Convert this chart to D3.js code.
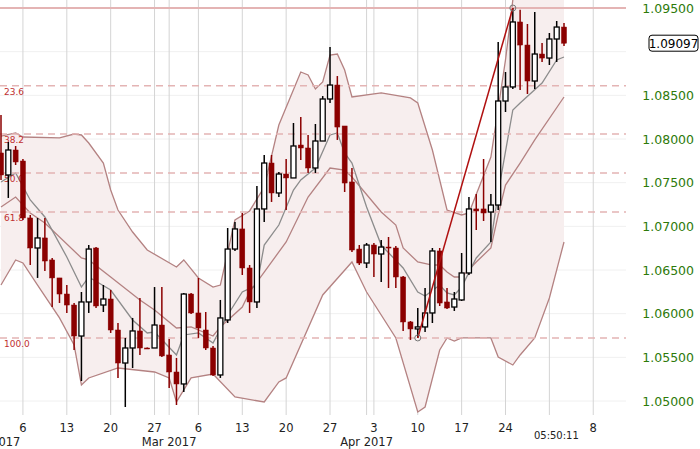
<!DOCTYPE html>
<meta charset="utf-8">
<html>
<head>
<style>
  body { margin: 0; background: #fff; }
  svg { font-family: "DejaVu Sans", Verdana, sans-serif; }
</style>
</head>
<body>
<div id="chart"></div>
<script src="https://d3js.org/d3.v7.min.js"></script>
<script>
// daily candles, 6 per week (Sun-Fri), index 0 = Thu 2 Feb 2017
var open  = [1.07840,1.07588,1.07874,1.07748,1.07096,1.06752,1.06867,1.06615,1.06409,1.06225,
             1.06099,1.05744,1.06134,1.06752,1.06099,1.06168,1.05813,1.05435,1.05607,1.05802,
             1.05607,1.05607,1.05870,1.05527,1.05332,1.05195,1.06225,1.06008,1.05813,1.05607,
             1.05298,1.05928,1.06740,1.06970,1.06523,1.06134,1.07199,1.07725,1.07382,1.07599,
             1.07554,1.07931,1.07897,1.07668,1.07977,1.08458,1.08618,1.08149,1.07508,1.06740,
             1.06580,1.06786,1.06683,1.06763,1.06752,1.06420,1.05905,1.05825,1.05848,1.06008,
             1.06718,1.06134,1.06076,1.06157,1.06466,1.07199,1.07199,1.07164,1.07244,1.08435,
             1.08596,1.09340,1.09076,1.08664,1.08973,1.08927,1.09145,1.09282];
var high  = [1.08275,1.07966,1.07920,1.07771,1.07130,1.07096,1.07096,1.06638,1.06409,1.06328,
             1.06122,1.06248,1.06786,1.06763,1.06328,1.06271,1.05893,1.05722,1.05951,1.06180,
             1.05612,1.06305,1.06305,1.05710,1.05493,1.06237,1.06237,1.06409,1.06019,1.05630,
             1.06157,1.06981,1.07050,1.07153,1.06557,1.07462,1.07817,1.07817,1.07622,1.07771,
             1.08183,1.08252,1.08046,1.08172,1.08492,1.09053,1.08721,1.08149,1.07668,1.06786,
             1.06809,1.06809,1.06844,1.06878,1.06775,1.06431,1.05916,1.06065,1.06294,1.06752,
             1.06752,1.06294,1.06248,1.06695,1.07336,1.07370,1.07771,1.07370,1.09111,1.08767,
             1.09500,1.09480,1.09317,1.09454,1.09099,1.09214,1.09351,1.09328];
var low   = [1.07531,1.07325,1.07702,1.07073,1.06557,1.06409,1.06489,1.06076,1.06122,1.06008,
             1.05584,1.05229,1.06008,1.06065,1.06019,1.05779,1.05264,1.04931,1.05378,1.05527,
             1.05602,1.05607,1.05504,1.05149,1.04954,1.05103,1.05996,1.05722,1.05584,1.05286,
             1.05264,1.05893,1.06718,1.06443,1.06008,1.06065,1.07050,1.07279,1.07336,1.07187,
             1.07554,1.07760,1.07611,1.07611,1.07977,1.08412,1.07989,1.07393,1.06706,1.06557,
             1.06523,1.06420,1.06363,1.06294,1.06294,1.05802,1.05699,1.05722,1.05790,1.05893,
             1.06088,1.06054,1.06031,1.06145,1.06443,1.06958,1.07061,1.06821,1.07187,1.08309,
             1.08573,1.08561,1.08515,1.08573,1.08882,1.08847,1.08882,1.09065];
var close = [1.07588,1.07874,1.07737,1.07096,1.06752,1.06867,1.06603,1.06409,1.06225,1.06099,
             1.05744,1.06134,1.06740,1.06088,1.06168,1.05813,1.05435,1.05607,1.05802,1.05607,
             1.05605,1.05870,1.05516,1.05332,1.05195,1.06225,1.06008,1.05836,1.05607,1.05298,
             1.05951,1.06740,1.06970,1.06523,1.06134,1.07199,1.07725,1.07382,1.07599,1.07554,
             1.07920,1.07897,1.07668,1.07977,1.08458,1.08618,1.08137,1.07496,1.06729,1.06580,
             1.06786,1.06683,1.06763,1.06752,1.06420,1.05905,1.05825,1.05848,1.06008,1.06718,
             1.06122,1.06065,1.06168,1.06466,1.07199,1.07176,1.07153,1.07244,1.08435,1.08596,
             1.09340,1.09076,1.08664,1.08973,1.08927,1.09145,1.09282,1.09097];

// indicator lines, [candle index, price]
var upperBand = [[0,1.08034],[2,1.08069],[3,1.08023],[8,1.08012],[10,1.08057],[11,1.08046],[12,1.07954],
  [14,1.07725],[15,1.07416],[16,1.07187],[18,1.06935],[20,1.06729],[24,1.06534],[25,1.06615],[27,1.06409],
  [29,1.06305],[30,1.06328],[32,1.07073],[34,1.07176],[36,1.07450],[38,1.08160],[41,1.08767],[42,1.08733],
  [43,1.08573],[44,1.08653],[45,1.08962],[46,1.08973],[47,1.08790],[48,1.08481],[52,1.08527],[56,1.08470],
  [57,1.08412],[59,1.07874],[61,1.07187],[63,1.07130],[64,1.07153],[67,1.07794],[69,1.08905],[70,1.09592],
  [71,1.0972],[77,1.0985]];
var midBand = [[0,1.07221],[2,1.07336],[4,1.07153],[6,1.07038],[11,1.06638],[12,1.06615],[15,1.06420],
  [19,1.06157],[21,1.06042],[24,1.05836],[26,1.05848],[27,1.05813],[29,1.05744],[30,1.05848],[33,1.06076],
  [34,1.06248],[36,1.06477],[39,1.06821],[42,1.07336],[45,1.07668],[47,1.07645],[48,1.07565],[52,1.07164],
  [54,1.07015],[55,1.06752],[57,1.06592],[59,1.06557],[60,1.06557],[61,1.06477],[62,1.06420],[63,1.06420],
  [65,1.06592],[67,1.06752],[68,1.07130],[69,1.07473],[71,1.07725],[73,1.07989],[77,1.08481]];
var avgLine = [[0,1.07508],[2,1.07611],[4,1.07302],[6,1.07107],[9,1.06649],[11,1.06305],[12,1.06420],
  [15,1.06271],[18,1.05928],[20,1.05779],[21,1.05790],[24,1.05527],[25,1.05756],[27,1.05779],[29,1.05664],
  [31,1.05985],[33,1.06248],[35,1.06328],[36,1.06786],[38,1.07015],[40,1.07416],[41,1.07531],[43,1.07668],
  [45,1.08046],[46,1.08069],[47,1.07840],[48,1.07725],[50,1.07221],[52,1.06786],[55,1.06523],[57,1.06248],
  [58,1.06202],[60,1.06328],[61,1.06237],[62,1.06214],[63,1.06305],[65,1.06638],[67,1.06821],[68,1.07382],
  [70,1.08332],[71,1.08412],[74,1.08641],[76,1.08905],[77,1.08939]];
var lowerBand = [[0,1.06328],[2,1.06615],[3,1.06580],[5,1.06328],[8,1.05951],[10,1.05641],[11,1.05183],
  [12,1.05264],[16,1.05378],[21,1.05332],[23,1.05264],[24,1.04989],[26,1.05264],[29,1.05309],[32,1.05046],
  [36,1.04989],[38,1.05218],[39,1.05264],[44,1.06214],[48,1.06592],[50,1.06248],[54,1.05722],[57,1.04874],
  [58,1.04931],[60,1.05584],[61,1.05722],[62,1.05687],[63,1.05722],[67,1.05722],[68,1.05504],[70,1.05412],
  [71,1.05527],[73,1.05722],[75,1.06180],[77,1.06821]];

var fibLevels = [0, 23.6, 38.2, 50.0, 61.8, 100.0];
var fibHigh = {i: 70, p: 1.09500}, fibLow = {i: 57, p: 1.05722};
var priceTicks = [1.050,1.055,1.060,1.065,1.070,1.075,1.080,1.085,1.090,1.095];
var dayTicks = [{i:3,t:"6"},{i:9,t:"13"},{i:15,t:"20"},{i:21,t:"27"},{i:27,t:"6"},{i:33,t:"13"},
  {i:39,t:"20"},{i:45,t:"27"},{i:51,t:"3"},{i:57,t:"10"},{i:63,t:"17"},{i:69,t:"24"},{i:75,t:""},{i:81,t:"8"}];
var monthTicks = [{i:-1,t:"Feb 2017"},{i:23,t:"Mar 2017"},{i:50,t:"Apr 2017"}];
var lastPrice = 1.09097, countdown = "05:50:11";

var W = 700, H = 449, plotRight = 626, plotBottom = 415;
var svg = d3.select("#chart").append("svg").attr("width", W).attr("height", H);

var x = d3.scaleLinear().domain([0, 77]).range([1, 564]);
var y = d3.scaleLinear().domain([1.050, 1.095]).range([401, 8]);

svg.append("defs").append("clipPath").attr("id", "plot")
  .append("rect").attr("x", 0).attr("y", 0).attr("width", plotRight).attr("height", plotBottom);
var g = svg.append("g").attr("clip-path", "url(#plot)");

// grid
g.selectAll(".hg").data(priceTicks).enter().append("line")
  .attr("x1", 0).attr("x2", plotRight).attr("y1", d => y(d)).attr("y2", d => y(d))
  .attr("stroke", "#f0f0f0");
g.selectAll(".vg").data(dayTicks.concat(monthTicks)).enter().append("line")
  .attr("x1", d => x(d.i)).attr("x2", d => x(d.i)).attr("y1", 0).attr("y2", plotBottom)
  .attr("stroke", "#d4d4d4");

// band fill between upper and lower band (both read at the union of their indices)
function lookup(arr) {
  return d3.scaleLinear().domain(arr.map(e => e[0])).range(arr.map(e => e[1]));
}
var upF = lookup(upperBand), loF = lookup(lowerBand);
var idx = Array.from(new Set(upperBand.map(e => e[0]).concat(lowerBand.map(e => e[0])))).sort((a, b) => a - b);
var bandArea = d3.area().x(d => x(d)).y0(d => y(loF(d))).y1(d => y(upF(d)));
g.append("path").datum(idx).attr("d", bandArea).attr("fill", "#f7eeee");

var line = d3.line().x(d => x(d[0])).y(d => y(d[1]));
[[upperBand, "#b48282"], [lowerBand, "#b48282"], [midBand, "#b48282"], [avgLine, "#8c8c8c"]].forEach(function(s) {
  g.append("path").datum(s[0]).attr("d", line).attr("fill", "none")
    .attr("stroke", s[1]).attr("stroke-width", 1.3);
});

// fibonacci levels
var range = fibHigh.p - fibLow.p;
fibLevels.forEach(function(f) {
  var yy = y(fibHigh.p - range * f / 100);
  g.append("line").attr("x1", 0).attr("x2", plotRight).attr("y1", yy).attr("y2", yy)
    .attr("stroke", "#e4b4b4").attr("stroke-width", f === 0 ? 2 : 1.5)
    .attr("stroke-dasharray", f === 0 ? null : "7,5");
  if (f > 0) {
    g.append("text").attr("x", 4).attr("y", yy + 9).attr("font-size", 9).attr("fill", "#c03030")
      .text(f.toFixed(1));
  }
});

// candles
var candles = open.map((o, i) => ({i: i, o: o, h: high[i], l: low[i], c: close[i]}));
var cg = g.selectAll(".c").data(candles).enter().append("g");
cg.append("line")
  .attr("x1", d => x(d.i)).attr("x2", d => x(d.i))
  .attr("y1", d => y(d.h)).attr("y2", d => y(d.l))
  .attr("stroke", d => d.c < d.o ? "#8b0000" : "#000").attr("stroke-width", 1.5);
cg.append("rect")
  .attr("x", d => x(d.i) - 2.5).attr("width", 5)
  .attr("y", d => y(Math.max(d.o, d.c)))
  .attr("height", d => Math.max(1, Math.abs(y(d.o) - y(d.c))))
  .attr("fill", d => d.c < d.o ? "#8b0000" : "#fff")
  .attr("stroke", d => d.c < d.o ? "#8b0000" : "#000").attr("stroke-width", d => d.c < d.o ? 0.5 : 1.3);

// trend line between fib anchors
g.append("line").attr("x1", x(fibLow.i)).attr("y1", y(fibLow.p))
  .attr("x2", x(fibHigh.i)).attr("y2", y(fibHigh.p))
  .attr("stroke", "#b01010").attr("stroke-width", 1.5);
[fibLow, fibHigh].forEach(function(p) {
  g.append("circle").attr("cx", x(p.i)).attr("cy", y(p.p)).attr("r", 3)
    .attr("fill", "none").attr("stroke", "#777");
});

// right axis (the last-price tag hides the tick it sits on)
var ly = y(lastPrice);
svg.selectAll(".yl").data(priceTicks.filter(d => Math.abs(y(d) - ly) > 12)).enter().append("text")
  .attr("x", 694).attr("y", d => y(d) + 4.5).attr("text-anchor", "end")
  .attr("font-size", 12.5).attr("fill", "#2d7a0a").text(d => d.toFixed(5));
svg.append("rect").attr("x", 649).attr("y", ly - 8).attr("width", 49).attr("height", 16).attr("rx", 3)
  .attr("fill", "#fff").attr("stroke", "#000");
svg.append("text").attr("x", 673.5).attr("y", ly + 4.5).attr("text-anchor", "middle")
  .attr("font-size", 12).attr("fill", "#000").text(lastPrice.toFixed(5));

// bottom axis
svg.selectAll(".dl").data(dayTicks).enter().append("text")
  .attr("x", d => x(d.i)).attr("y", 432).attr("text-anchor", "middle")
  .attr("font-size", 11.5).attr("fill", "#222").text(d => d.t);
svg.selectAll(".ml").data(monthTicks).enter().append("text")
  .attr("x", d => x(d.i)).attr("y", 446).attr("text-anchor", "middle")
  .attr("font-size", 11.5).attr("fill", "#222").text(d => d.t);
svg.append("text").attr("x", x(75) + 7).attr("y", 439).attr("text-anchor", "middle")
  .attr("font-size", 10).attr("fill", "#222").text(countdown);
</script>
</body>
</html>
